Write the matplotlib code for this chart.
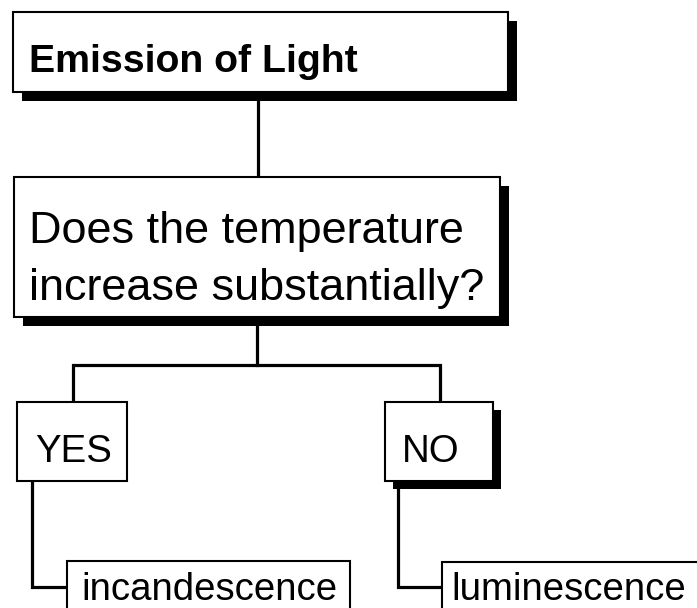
import matplotlib
matplotlib.use('Agg')
import matplotlib.pyplot as plt
from matplotlib.patches import Rectangle

plt.rcParams['font.family'] = ['Liberation Sans', 'DejaVu Sans']

# texts of the flow chart
title_text = 'Emission of Light'
question_lines = ['Does the temperature', 'increase substantially?']
answer_labels = ['YES', 'NO']
result_labels = ['incandescence', 'luminescence']

# layout in pixels (x right, y down)
W, H = 697, 608
title_box = (13, 12, 495, 80)
question_box = (14, 177, 486, 140)
answer_boxes = [(17, 402, 110, 79), (385, 402, 108, 79)]
answer_shadow = [0, 8]
result_boxes = [(67, 561, 283, 70), (442, 562, 280, 70)]

connectors = [
    [(258, 92), (258, 177)],
    [(257, 317), (257, 365)],
    [(73, 402), (73, 365), (440, 365), (440, 402)],
    [(32, 481), (32, 587), (67, 587)],
    [(398, 481), (398, 587), (442, 587)],
]


def draw_box(ax, box, shadow=0):
    x, y, w, h = box
    if shadow:
        ax.add_patch(Rectangle((x + shadow, y + shadow), w, h, facecolor='black',
                               edgecolor='black', lw=0, zorder=2))
    ax.add_patch(Rectangle((x, y), w, h, facecolor='white', edgecolor='black',
                           lw=1.5, zorder=3))


fig = plt.figure(figsize=(W / 100, H / 100), dpi=100)
ax = fig.add_axes([0, 0, 1, 1])
ax.set_xlim(0, W)
ax.set_ylim(H, 0)
ax.axis('off')

#连接线
for path in connectors:
    xs = [p[0] for p in path]
    ys = [p[1] for p in path]
    ax.plot(xs, ys, color='black', lw=2.3, solid_joinstyle='miter', zorder=1)

#标题框
draw_box(ax, title_box, 9)
ax.text(29, 72, title_text, fontsize=28.3, fontweight='bold', ha='left', va='baseline', zorder=4)

#问题框
draw_box(ax, question_box, 9)
for i, line in enumerate(question_lines):
    ax.text(29, 243 + i * 57, line, fontsize=32.4, ha='left', va='baseline', zorder=4)

#YES / NO
answer_text_x = [35, 402]
for box, sh, label, tx in zip(answer_boxes, answer_shadow, answer_labels, answer_text_x):
    draw_box(ax, box, sh)
    ax.text(tx, 462, label, fontsize=27.6, ha='left', va='baseline', zorder=4)

#结果框
result_text_x = [81, 451]
for box, label, tx in zip(result_boxes, result_labels, result_text_x):
    draw_box(ax, box)
    ax.text(tx, 600, label, fontsize=27.6, ha='left', va='baseline', zorder=4)

fig.savefig('out.png', dpi=100)
